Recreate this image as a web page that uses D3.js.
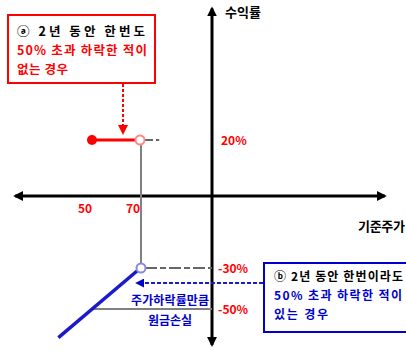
<!DOCTYPE html>
<html>
<head>
<meta charset="utf-8">
<script src="https://cdn.jsdelivr.net/npm/d3@7"></script>
<style>
  body { margin: 0; background: #fff; }
  text { font-family: "Noto Sans CJK KR", "Noto Sans", sans-serif; font-weight: bold; }
</style>
</head>
<body>
<script>
// 기준주가 눈금, 수익률 눈금
var priceTicks = [50, 70];
var returnTicks = [20, -30, -50];
var returnLabels = ['20%', '-30%', '-50%'];

// ⓐ 경우: 20% 수익 (기준주가 50 ~ 70)
var casePrices = [50, 70];
var caseReturn = 20;
// ⓑ 경우: 주가하락률만큼 원금손실
var lossPrices = [36, 70];
var lossReturns = [-64, -30];

var boxA = ['ⓐ 2년 동안 한번도', '50% 초과 하락한 적이', '없는 경우'];
var boxB = ['ⓑ 2년 동안 한번이라도', '50% 초과 하락한 적이', '있는 경우'];

var svg = d3.select('body').append('svg').attr('width', 406).attr('height', 352);

var x = d3.scaleLinear().domain([70, 100]).range([140, 212]);
var y = d3.scaleLinear().domain([-50, -30, 0, 20]).range([309, 268, 196, 140]);

var defs = svg.append('defs');
function marker(id, color, size) {
  defs.append('marker')
    .attr('id', id).attr('viewBox', '0 0 10 10')
    .attr('refX', 8).attr('refY', 5)
    .attr('markerWidth', size).attr('markerHeight', size)
    .attr('markerUnits', 'userSpaceOnUse')
    .attr('orient', 'auto-start-reverse')
    .append('path').attr('d', 'M0,0 L10,5 L0,10 z').attr('fill', color);
}
marker('arrBlack', '#000', 10);
marker('arrRed', '#f00', 10);
marker('arrBlue', '#00c', 9);

// 축
svg.append('line')
  .attr('x1', x(18)).attr('x2', x(172)).attr('y1', y(0)).attr('y2', y(0))
  .attr('stroke', '#000').attr('stroke-width', 3)
  .attr('marker-start', 'url(#arrBlack)').attr('marker-end', 'url(#arrBlack)');
svg.append('line')
  .attr('x1', x(100)).attr('x2', x(100)).attr('y1', y(67)).attr('y2', y(-67.5))
  .attr('stroke', '#000').attr('stroke-width', 3)
  .attr('marker-start', 'url(#arrBlack)').attr('marker-end', 'url(#arrBlack)');

svg.append('text').attr('x', 225).attr('y', 17).attr('font-size', 13).text('수익률');
svg.append('text').attr('x', 358).attr('y', 231).attr('font-size', 13).attr('textLength', 47).text('기준주가');

// 보조선
svg.append('line')
  .attr('x1', x(70) + 1).attr('x2', x(70) + 1).attr('y1', y(20) + 5).attr('y2', y(-30) - 4)
  .attr('stroke', '#808080').attr('stroke-width', 2);
svg.append('line')
  .attr('x1', x(70) + 5).attr('x2', x(78)).attr('y1', y(20)).attr('y2', y(20))
  .attr('stroke', '#666').attr('stroke-width', 2).attr('stroke-dasharray', '8,3');
svg.append('line')
  .attr('x1', x(70) + 5).attr('x2', x(100)).attr('y1', y(-30)).attr('y2', y(-30))
  .attr('stroke', '#666').attr('stroke-width', 2).attr('stroke-dasharray', '12,3,6,3');
svg.append('line')
  .attr('x1', x(50)).attr('x2', x(100)).attr('y1', y(-50)).attr('y2', y(-50))
  .attr('stroke', '#808080').attr('stroke-width', 2);

// 눈금 라벨
svg.selectAll('text.px')
  .data(priceTicks)
  .enter().append('text')
  .attr('class', 'px')
  .attr('x', function(d){ return x(d) - 7; })
  .attr('y', y(0) + 17)
  .attr('text-anchor', 'middle').attr('font-size', 12).attr('fill', '#f00')
  .text(function(d){ return d; });
svg.selectAll('text.ry')
  .data(returnTicks)
  .enter().append('text')
  .attr('class', 'ry')
  .attr('x', function(d){ return d > 0 ? 221 : 218; })
  .attr('y', function(d){ return y(d) + 5; })
  .attr('font-size', 12).attr('fill', '#f00')
  .text(function(d, i){ return returnLabels[i]; });

// ⓐ 빨간 구간
svg.append('line')
  .attr('x1', x(casePrices[0])).attr('x2', x(casePrices[1]) - 4)
  .attr('y1', y(caseReturn)).attr('y2', y(caseReturn))
  .attr('stroke', '#f00').attr('stroke-width', 3);
svg.append('circle')
  .attr('cx', x(casePrices[0])).attr('cy', y(caseReturn)).attr('r', 5)
  .attr('fill', '#f00');
svg.append('circle')
  .attr('cx', x(casePrices[1])).attr('cy', y(caseReturn)).attr('r', 4.5)
  .attr('fill', '#fff').attr('stroke', '#f88').attr('stroke-width', 2);

// ⓑ 파란 선
svg.append('line')
  .attr('x1', x(lossPrices[0])).attr('y1', y(lossReturns[0]))
  .attr('x2', x(lossPrices[1]) - 3).attr('y2', y(lossReturns[1]) + 3)
  .attr('stroke', '#1a1acc').attr('stroke-width', 3.5);
svg.append('circle')
  .attr('cx', x(lossPrices[1]) + 1).attr('cy', y(lossReturns[1])).attr('r', 4.5)
  .attr('fill', '#fff').attr('stroke', '#8888e0').attr('stroke-width', 2);

svg.append('text').attr('x', 170).attr('y', 305).attr('text-anchor', 'middle')
  .attr('font-size', 12).attr('fill', '#00c').attr('textLength', 78).text('주가하락률만큼');
svg.append('text').attr('x', 170).attr('y', 325).attr('text-anchor', 'middle')
  .attr('font-size', 12).attr('fill', '#00c').text('원금손실');

// 박스 ⓐ
svg.append('rect').attr('x', 8).attr('y', 15).attr('width', 147).attr('height', 68)
  .attr('fill', '#fff').attr('stroke', '#f00').attr('stroke-width', 2);
svg.selectAll('text.ba')
  .data(boxA)
  .enter().append('text')
  .attr('class', 'ba')
  .attr('x', 17)
  .attr('y', function(d, i){ return 36 + i * 19; })
  .attr('font-size', 12.5)
  .attr('fill', function(d, i){ return i === 0 ? '#000' : '#f00'; })
  .attr('textLength', function(d, i){ return [128, 130, 51][i]; })
  .attr('lengthAdjust', 'spacing')
  .text(function(d){ return d; });
svg.append('line')
  .attr('x1', 123).attr('x2', 123).attr('y1', 84).attr('y2', y(caseReturn) - 7)
  .attr('stroke', '#f00').attr('stroke-width', 2).attr('stroke-dasharray', '3,2')
  .attr('marker-end', 'url(#arrRed)');

// 박스 ⓑ
svg.append('rect').attr('x', 264).attr('y', 263).attr('width', 150).attr('height', 69)
  .attr('fill', '#fff').attr('stroke', '#00c').attr('stroke-width', 2);
svg.selectAll('text.bb')
  .data(boxB)
  .enter().append('text')
  .attr('class', 'bb')
  .attr('x', 274)
  .attr('y', function(d, i){ return 281 + i * 19; })
  .attr('font-size', 12)
  .attr('fill', function(d, i){ return i === 0 ? '#000' : '#00c'; })
  .attr('textLength', function(d, i){ return [129, 128, 54][i]; })
  .attr('lengthAdjust', 'spacing')
  .text(function(d){ return d; });
svg.append('line')
  .attr('x1', 263).attr('x2', x(70) - 3).attr('y1', 283).attr('y2', 283)
  .attr('stroke', '#1a1acc').attr('stroke-width', 2).attr('stroke-dasharray', '4,2')
  .attr('marker-end', 'url(#arrBlue)');
</script>
</body>
</html>
